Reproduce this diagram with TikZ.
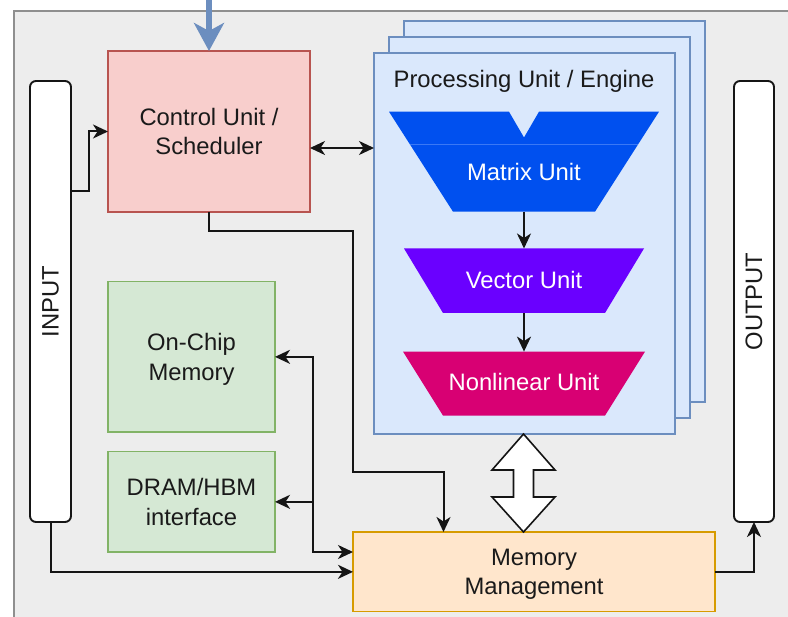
\documentclass[tikz,border=0pt]{standalone}
\usepackage{fontspec}
\setmainfont{Liberation Sans}
\usetikzlibrary{arrows.meta}

\definecolor{framefill}{HTML}{EDEDED}
\definecolor{framestroke}{HTML}{8F8F8F}
\definecolor{ctrlfill}{HTML}{F8CECC}
\definecolor{ctrlstroke}{HTML}{B85450}
\definecolor{memfill}{HTML}{D5E8D4}
\definecolor{memstroke}{HTML}{82B366}
\definecolor{mgmtfill}{HTML}{FFE6CC}
\definecolor{mgmtstroke}{HTML}{D79B00}
\definecolor{pufill}{HTML}{DAE8FC}
\definecolor{pustroke}{HTML}{6C8EBF}
\definecolor{matrixc}{HTML}{0050EF}
\definecolor{matrixline}{HTML}{3A78F5}
\definecolor{vectorc}{HTML}{6A00FF}
\definecolor{nonlinc}{HTML}{D80073}
\definecolor{linec}{HTML}{151515}
\definecolor{txt}{HTML}{1A1A1A}

\newcommand\diagfont{\fontsize{23.8}{29.5}\selectfont}

\begin{document}
\begin{tikzpicture}[x=1pt,y=-1pt,
  block/.style={draw, line width=1.5pt, inner sep=0pt, outer sep=0pt,
    align=center, font=\diagfont, text=txt},
  ctrlbox/.style={block, draw=ctrlstroke, fill=ctrlfill},
  membox/.style={block, draw=memstroke, fill=memfill},
  mgmtbox/.style={block, draw=mgmtstroke, fill=mgmtfill},
  pubox/.style={block, draw=pustroke, fill=pufill},
  iobox/.style={block, draw=linec, line width=1.9pt, fill=white, rounded corners=6pt},
  unitarea/.style={inner sep=0pt, outer sep=0pt},
  unittext/.style={font=\diagfont, text=white, inner sep=0pt},
  plaintext/.style={font=\diagfont, text=txt, inner sep=0pt, align=center},
  tip/.tip={Stealth[length=15pt,width=14pt,inset=4.5pt]},
  arr/.style={draw=linec, line width=2pt, -tip},
  dbl/.style={draw=linec, line width=2pt, tip-tip},
]
\useasboundingbox (0,0) rectangle (788,617);

% chip frame, running past the right and bottom edges
\begin{scope}
  \clip (0,0) rectangle (788,617);
  \fill[framefill] (14,11) rectangle (800,630);
  \draw[framestroke, line width=1.5pt] (800,11) -- (14,11) -- (14,630);
\end{scope}

% input / output ports
\node[iobox, minimum width=41pt, minimum height=441pt] (in) at (50.5,301.5) {};
\node[plaintext, rotate=90] (inlbl) at (in.center) {INPUT};
\node[iobox, minimum width=40pt, minimum height=441pt] (out) at (754,301.5) {};
\node[plaintext, rotate=90] (outlbl) at (out.center) {OUTPUT};

% control unit
\node[ctrlbox, minimum width=202pt, minimum height=161pt] (ctrl) at (209,131.5)
  {Control Unit /\\Scheduler};

% memories
\node[membox, minimum width=167pt, minimum height=150.3pt] (onchip) at (191.5,356.85) {};
\node[plaintext] (onchiplbl) at ([yshift=-2.5pt]onchip.center) {On-Chip\\Memory};
\node[membox, minimum width=167pt, minimum height=100.3pt] (dram) at (191.5,501.85)
  {DRAM/HBM\\interface};
\node[mgmtbox, minimum width=362pt, minimum height=79.7pt] (mgmt) at (534,571.85) {};
\node[plaintext] (mgmtlbl) at ([yshift=-2.5pt]mgmt.center) {Memory\\Management};

% stacked processing units
\node[pubox, minimum width=301pt, minimum height=381pt] (pu3) at (554.5,211.5) {};
\node[pubox, minimum width=301pt, minimum height=381pt] (pu2) at (539.5,227.5) {};
\node[pubox, minimum width=301pt, minimum height=381pt] (pu) at (524.5,243.5) {};
\node[plaintext] (putitle) at (524,81) {Processing Unit / Engine};

% matrix unit: funnel with a notch on top
\node[unitarea, minimum width=270pt, minimum height=100pt] (mx) at (524,161.7) {};
\fill[matrixc] (mx.north west) -- ([xshift=-15pt]mx.north) -- ([yshift=-25.8pt]mx.north)
  -- ([xshift=15pt]mx.north) -- (mx.north east) -- ([xshift=-64pt]mx.south east)
  -- ([xshift=64pt]mx.south west) -- cycle;
\draw[matrixline, line width=0.8pt] (410,144) -- (638,144);
\node[unittext] (mxt) at (524,172) {Matrix Unit};

% vector unit
\node[unitarea, minimum width=240pt, minimum height=64.5pt] (vec) at (524,280.75) {};
\fill[vectorc] (vec.north west) -- (vec.north east) -- ([xshift=-39pt]vec.south east)
  -- ([xshift=39pt]vec.south west) -- cycle;
\node[unittext] (vect) at (524,280) {Vector Unit};

% nonlinear unit
\node[unitarea, minimum width=242pt, minimum height=64pt] (nl) at (524,383.6) {};
\fill[nonlinc] (nl.north west) -- (nl.north east) -- ([xshift=-40pt]nl.south east)
  -- ([xshift=40pt]nl.south west) -- cycle;
\node[unittext] (nlt) at (524,382) {Nonlinear Unit};

\draw[arr] (mx.south) -- (vec.north);
\draw[arr] (vec.south) -- (nl.north);

% wide two-way data path between the engines and memory management
\draw[linec, line width=1.6pt, fill=white, line join=miter]
  (523.5,434) -- (555,470) -- (533.5,470) -- (533.5,497) -- (555,497)
  -- (523.5,532) -- (492,497) -- (513.5,497) -- (513.5,470) -- (492,470) -- cycle;

% external command into the scheduler
\coordinate (cmd) at (209,-4);
\draw[pustroke, line width=5.5pt, -{Stealth[length=28pt,width=30pt,inset=8pt]}]
  (cmd) -- (ctrl.north);

% connectors
\coordinate (yin) at (0,191.5);
\coordinate (bendin) at (89,131.5);
\draw[arr] (in.east |- yin) -| (bendin) -- (ctrl.west);

\coordinate (ybus) at (0,148);
\draw[dbl] (ctrl.east |- ybus) -- (pu.west |- ybus);

\coordinate (c1) at (353,231);
\coordinate (c2) at (353,471.7);
\draw[arr] (ctrl.south) |- (c1) -- (c2) -| ([xshift=-90.5pt]mgmt.north);

\coordinate (ymem) at (0,552);
\coordinate (m1) at (313,356.85);
\draw[dbl] (mgmt.west |- ymem) -| (m1) -- (onchip.east);
\coordinate (m2) at (313,501.85);
\draw[arr] (m2) -- (dram.east);

\draw[arr] (in.south) |- (mgmt.west);
\draw[arr] (mgmt.east) -| (out.south);
\end{tikzpicture}
\end{document}
